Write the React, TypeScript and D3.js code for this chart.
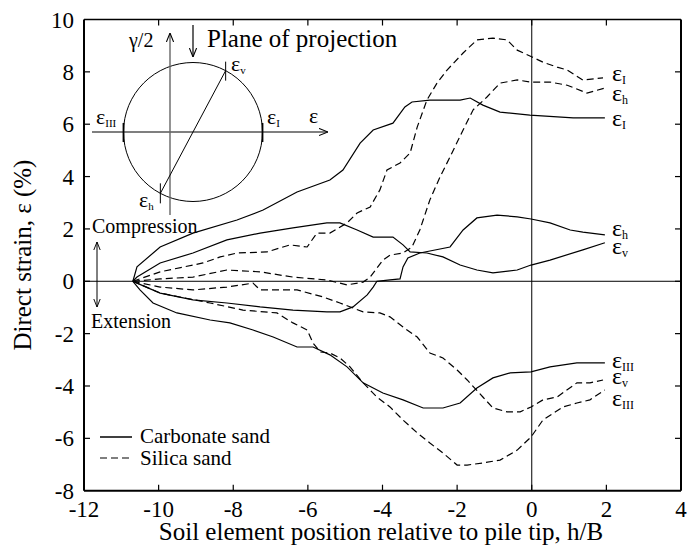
import React from "react";
import * as d3 from "d3";

// x: h/B, y: direct strain (%)
const xTicks = [-12, -10, -8, -6, -4, -2, 0, 2, 4];
const yTicks = [-8, -6, -4, -2, 0, 2, 4, 6, 8, 10];

// carbonate sand (solid)
const carbEpsI: [number, number][] = [
  [-10.69, 0], [-10.58, 0.55], [-9.96, 1.31], [-9.08, 1.84], [-7.9, 2.34], [-7.2, 2.72],
  [-6.29, 3.41], [-5.41, 3.87], [-5.06, 4.25], [-4.6, 5.28], [-4.25, 5.78], [-3.72, 6.04],
  [-3.4, 6.66], [-3.21, 6.85], [-2.73, 6.92], [-1.92, 6.92], [-1.65, 7.0], [-1.31, 6.73],
  [-0.85, 6.46], [-0.05, 6.35], [1.11, 6.24], [1.96, 6.24],
];
const carbEpsV: [number, number][] = [
  [-10.69, 0], [-10.58, 0.16], [-9.96, 0.7], [-9.08, 1.08], [-8.17, 1.58], [-7.28, 1.84],
  [-6.4, 2.04], [-5.49, 2.23], [-5.14, 2.23], [-4.68, 1.96], [-4.25, 1.69], [-3.72, 1.69],
  [-3.45, 1.39], [-3.26, 1.12], [-2.81, 1.08], [-2.38, 0.93], [-1.92, 0.62], [-1.47, 0.43],
  [-1.04, 0.32], [-0.39, 0.43], [-0.02, 0.62], [0.49, 0.81], [1.37, 1.2], [1.96, 1.47],
];
const carbEpsH: [number, number][] = [
  [-10.69, 0], [-10.58, -0.07], [-9.96, -0.45], [-9.08, -0.71], [-8.17, -0.83], [-7.28, -0.98],
  [-6.4, -1.1], [-5.49, -1.17], [-5.14, -1.17], [-4.79, -0.98], [-4.41, -0.52], [-4.25, -0.22],
  [-4.15, 0], [-3.8, 0.05], [-3.53, 0.09], [-3.45, 0.55], [-3.32, 0.89], [-3.0, 1.08],
  [-2.19, 1.31], [-1.84, 1.96], [-1.47, 2.42], [-0.93, 2.53], [-0.39, 2.46], [-0.02, 2.38],
  [0.49, 2.23], [1.03, 1.96], [1.37, 1.88], [1.96, 1.77],
];
const carbEpsIII: [number, number][] = [
  [-10.69, 0], [-10.5, -0.33], [-10.15, -0.83], [-9.51, -1.21], [-8.62, -1.48], [-8.09, -1.59],
  [-7.47, -1.86], [-6.93, -2.13], [-6.29, -2.51], [-5.86, -2.51], [-5.41, -2.81], [-4.95, -3.27],
  [-4.52, -3.88], [-3.99, -4.27], [-3.45, -4.53], [-2.91, -4.84], [-2.38, -4.84], [-1.92, -4.65],
  [-1.47, -4.08], [-1.04, -3.69], [-0.58, -3.5], [-0.02, -3.46], [0.49, -3.27], [1.21, -3.12],
  [1.96, -3.12],
];

// silica sand (dashed)
const silEpsI: [number, number][] = [
  [-10.69, 0], [-9.96, 0.36], [-8.81, 0.7], [-8.35, 0.93], [-7.9, 1.08], [-7.1, 1.12],
  [-6.48, 1.39], [-6.02, 1.31], [-5.76, 1.84], [-5.41, 1.84], [-4.95, 2.23], [-4.68, 2.61],
  [-4.33, 2.84], [-4.07, 3.49], [-3.88, 4.25], [-3.53, 4.52], [-3.26, 4.9], [-3.07, 5.89],
  [-2.81, 6.92], [-2.54, 7.57], [-2.27, 8.07], [-1.84, 8.72], [-1.47, 9.22], [-1.04, 9.29],
  [-0.66, 9.22], [-0.39, 8.83], [0.01, 8.57], [0.3, 8.37], [0.68, 8.18], [0.95, 8.07],
  [1.37, 7.69], [1.91, 7.77],
];
const silEpsH: [number, number][] = [
  [-10.69, 0], [-9.96, 0.09], [-9.08, 0.16], [-8.17, 0.43], [-7.28, 0.36], [-6.4, 0.16],
  [-5.49, 0.05], [-4.95, -0.14], [-4.52, -0.03], [-4.33, 0.16], [-3.99, 0.81], [-3.8, 1.0],
  [-3.45, 1.08], [-3.21, 1.31], [-3.0, 1.96], [-2.73, 3.11], [-2.46, 3.98], [-2.19, 4.75],
  [-1.84, 5.78], [-1.57, 6.55], [-1.2, 7.04], [-0.85, 7.57], [-0.39, 7.69], [-0.02, 7.61],
  [0.49, 7.61], [0.95, 7.49], [1.48, 7.19], [1.96, 7.38],
];
const silEpsV: [number, number][] = [
  [-10.69, 0], [-9.96, -0.22], [-9.08, -0.33], [-8.17, -0.22], [-7.47, -0.07], [-7.28, -0.33],
  [-6.29, -0.33], [-5.59, -0.6], [-5.14, -0.83], [-4.52, -1.17], [-4.07, -1.21], [-3.8, -1.36],
  [-3.45, -1.75], [-3.07, -2.13], [-2.73, -2.74], [-2.38, -2.93], [-2.0, -3.39], [-1.73, -3.77],
  [-1.31, -4.42], [-1.04, -4.84], [-0.66, -4.99], [-0.31, -4.99], [-0.02, -4.8], [0.3, -4.53],
  [0.68, -4.42], [1.21, -3.88], [1.56, -3.88], [1.91, -3.77],
];
const silEpsIII: [number, number][] = [
  [-10.69, 0], [-9.96, -0.45], [-8.62, -0.83], [-7.74, -1.1], [-6.83, -1.21], [-6.4, -1.59],
  [-6.02, -1.86], [-5.86, -2.36], [-5.67, -2.7], [-5.41, -2.74], [-5.14, -2.93], [-4.87, -3.27],
  [-4.52, -3.88], [-4.15, -4.42], [-3.8, -4.8], [-3.45, -5.3], [-3.07, -5.79], [-2.73, -6.18],
  [-2.38, -6.56], [-2.0, -7.02], [-1.73, -7.02], [-1.31, -6.94], [-0.85, -6.83], [-0.39, -6.45],
  [-0.02, -5.95], [0.3, -5.3], [0.84, -4.8], [1.21, -4.65], [1.56, -4.53], [1.96, -4.15],
];

const solidSeries = [carbEpsI, carbEpsV, carbEpsH, carbEpsIII];
const dashedSeries = [silEpsI, silEpsH, silEpsV, silEpsIII];

// end labels: subscript and label centre (strain units)
const endLabelSubs = ["I", "h", "I", "h", "v", "III", "v", "III"];
const endLabelY = [7.88, 7.12, 6.16, 1.96, 1.27, -3.08, -3.7, -4.53];

const FONT = "'Liberation Serif', 'Times New Roman', serif";

const W = 691;
const H = 547;
const M = { left: 84, right: 681, top: 19.5, bottom: 490.7 };

const x = d3.scaleLinear().domain([-12, 4]).range([M.left, M.right]);
const y = d3.scaleLinear().domain([-8, 10]).range([M.bottom, M.top]);

const line = d3
  .line<[number, number]>()
  .x((d) => x(d[0]))
  .y((d) => y(d[1]));

const Eps = ({ px, py, sub, size = 24, subSize = 12 }: any) => (
  <text x={px} y={py} fontFamily={FONT} fontSize={size}>
    ε
    <tspan fontSize={subSize} dy={3}>
      {sub}
    </tspan>
  </text>
);

function Mohr() {
  const cx = 193;
  const cy = 132;
  const r = 69.5;
  const a = Math.atan2(-(70 - cy), 226 - cx);
  const vx = cx + r * Math.cos(a);
  const vy = cy - r * Math.sin(a);
  const hx = cx - r * Math.cos(a);
  const hy = cy + r * Math.sin(a);
  return (
    <g>
      <defs>
        <marker id="arr" viewBox="0 0 10 10" refX="10" refY="5" markerWidth="9" markerHeight="9" orient="auto-start-reverse" markerUnits="userSpaceOnUse">
          <path d="M0,1 L10,5 L0,9" fill="none" stroke="#000" strokeWidth={1.2} />
        </marker>
      </defs>
      <circle cx={cx} cy={cy} r={r} fill="none" stroke="#000" strokeWidth={1} />
      <line x1={92} y1={cy} x2={328} y2={cy} stroke="#000" strokeWidth={1.2} markerEnd="url(#arr)" />
      <line x1={170} y1={215} x2={170} y2={33} stroke="#666" strokeWidth={1.4} markerEnd="url(#arr)" />
      <line x1={vx} y1={vy} x2={hx} y2={hy} stroke="#000" strokeWidth={1} />
      <line x1={cx - r} y1={cy - 9} x2={cx - r} y2={cy + 10} stroke="#000" strokeWidth={1.8} />
      <line x1={cx + r} y1={cy - 9} x2={cx + r} y2={cy + 10} stroke="#000" strokeWidth={1.8} />
      <line x1={vx} y1={vy - 9} x2={vx} y2={vy + 10} stroke="#000" strokeWidth={1} />
      <line x1={hx} y1={hy - 10} x2={hx} y2={hy + 10} stroke="#000" strokeWidth={1} />
      <line x1={193} y1={25} x2={193} y2={57} stroke="#000" strokeWidth={1.2} markerEnd="url(#arr)" />
      <text x={207} y={47} fontFamily={FONT} fontSize={25}>Plane of projection</text>
      <text x={129} y={47} fontFamily={FONT} fontSize={20}>γ/2</text>
      <text x={309} y={123} fontFamily={FONT} fontSize={22}>ε</text>
      <Eps px={267} py={124} sub="I" size={22} subSize={11} />
      <Eps px={96} py={124} sub="III" size={22} subSize={11} />
      <Eps px={231} py={71} sub="v" size={22} subSize={11} />
      <Eps px={139} py={207} sub="h" size={22} subSize={11} />
    </g>
  );
}

export default function App() {
  const tickLen = 6;
  return (
    <svg width={W} height={H} style={{ position: "absolute", left: 0, top: 0, background: "#fff" }}>
      {/* zero lines */}
      <line x1={x(0)} x2={x(0)} y1={M.top} y2={M.bottom} stroke="#000" strokeWidth={1} />
      <line x1={M.left} x2={M.right} y1={y(0)} y2={y(0)} stroke="#000" strokeWidth={1} />

      {/* ticks */}
      {xTicks.slice(1, -1).map((t) => (
        <g key={"xt" + t}>
          <line x1={x(t)} x2={x(t)} y1={M.bottom} y2={M.bottom - tickLen} stroke="#000" strokeWidth={1.2} />
          <line x1={x(t)} x2={x(t)} y1={M.top} y2={M.top + tickLen} stroke="#000" strokeWidth={1.2} />
        </g>
      ))}
      {yTicks.slice(1, -1).map((t) => (
        <g key={"yt" + t}>
          <line x1={M.left} x2={M.left + tickLen} y1={y(t)} y2={y(t)} stroke="#000" strokeWidth={1.2} />
          <line x1={M.right} x2={M.right - tickLen} y1={y(t)} y2={y(t)} stroke="#000" strokeWidth={1.2} />
        </g>
      ))}

      {/* frame */}
      <line x1={M.left} x2={M.right} y1={M.top} y2={M.top} stroke="#000" strokeWidth={1.5} />
      <line x1={M.right} x2={M.right} y1={M.top} y2={M.bottom} stroke="#000" strokeWidth={2} />
      <line x1={M.left} x2={M.right} y1={M.bottom} y2={M.bottom} stroke="#000" strokeWidth={2} />
      <line x1={M.left} x2={M.left} y1={M.top} y2={M.bottom} stroke="#000" strokeWidth={2} />

      {/* tick labels */}
      {xTicks.map((t) => (
        <text key={"xl" + t} x={x(t)} y={517} textAnchor="middle" fontFamily={FONT} fontSize={23}>
          {t}
        </text>
      ))}
      {yTicks.map((t) => (
        <text key={"yl" + t} x={74} y={y(t)} dy="0.35em" textAnchor="end" fontFamily={FONT} fontSize={23}>
          {t}
        </text>
      ))}

      {/* axis titles */}
      <text x={381} y={540} textAnchor="middle" fontFamily={FONT} fontSize={25}>
        Soil element position relative to pile tip, h/B
      </text>
      <text transform={`translate(31, ${(M.top + M.bottom) / 2}) rotate(-90)`} textAnchor="middle" fontFamily={FONT} fontSize={25}>
        Direct strain, ε (%)
      </text>

      {/* data */}
      {solidSeries.map((s, i) => (
        <path key={"s" + i} d={line(s) || ""} fill="none" stroke="#000" strokeWidth={1.2} />
      ))}
      {dashedSeries.map((s, i) => (
        <path key={"d" + i} d={line(s) || ""} fill="none" stroke="#000" strokeWidth={1.2} strokeDasharray="7,4" />
      ))}

      {/* end labels */}
      {endLabelY.map((v, i) => (
        <Eps key={"el" + i} px={612} py={y(v) + 6} sub={endLabelSubs[i]} />
      ))}

      {/* compression / extension */}
      <defs>
        <marker id="arr2" viewBox="0 0 10 10" refX="10" refY="5" markerWidth="8" markerHeight="8" orient="auto-start-reverse" markerUnits="userSpaceOnUse">
          <path d="M0,1 L10,5 L0,9" fill="none" stroke="#000" strokeWidth={1.2} />
        </marker>
      </defs>
      <text x={92} y={233} fontFamily={FONT} fontSize={20}>Compression</text>
      <text x={91} y={328} fontFamily={FONT} fontSize={20}>Extension</text>
      <line x1={97} y1={242} x2={97} y2={307} stroke="#000" strokeWidth={1} markerStart="url(#arr2)" markerEnd="url(#arr2)" />

      {/* legend */}
      <line x1={100} x2={132} y1={437} y2={437} stroke="#000" strokeWidth={1.5} />
      <text x={140} y={443} fontFamily={FONT} fontSize={21}>Carbonate sand</text>
      <line x1={100} x2={132} y1={458} y2={458} stroke="#000" strokeWidth={1.2} strokeDasharray="7,4" />
      <text x={140} y={465} fontFamily={FONT} fontSize={21}>Silica sand</text>

      <Mohr />
    </svg>
  );
}
